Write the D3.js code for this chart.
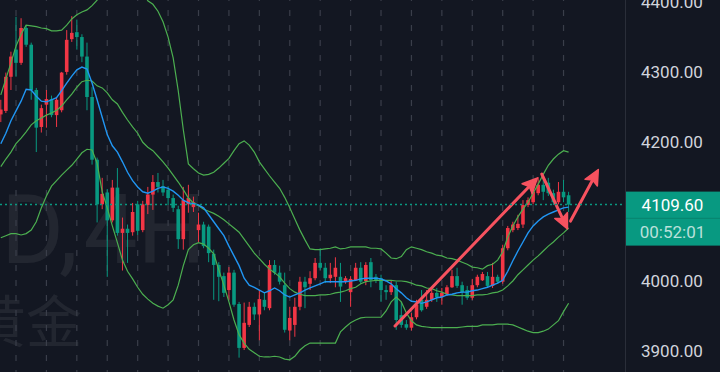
<!DOCTYPE html>
<html>
<head>
<meta charset="utf-8">
<script src="https://cdn.jsdelivr.net/npm/d3@7"></script>
<style>
  html, body { margin: 0; padding: 0; background: #131722; }
  svg { display: block; }
</style>
</head>
<body>
<div id="chart"></div>
<script>
// 4H candles, oldest first (first candle is partly cut at the left edge)
const openP = [
  4239, 4244, 4293, 4332, 4313, 4363, 4339, 4274, 4221, 4253,
  4261, 4238, 4245, 4300, 4347, 4357, 4350, 4322, 4264, 4174,
  4110, 4127, 4087, 4134, 4069, 4075, 4070, 4110, 4073, 4109,
  4124, 4142, 4136, 4131, 4119, 4103, 4060, 4110, 4106, 4073,
  4081, 4078, 4039, 4023, 4007, 3987, 4012, 3967, 3904, 3937,
  3963, 3952, 3973, 3961, 4023, 4012, 3994, 3929, 3937, 3963,
  3999, 3996, 4004, 4026, 4019, 4004, 4006, 4006, 4000, 3984,
  4001, 4019, 4000, 4027, 4006, 4004, 3987, 3984, 3994, 3951,
  3938, 3933, 3948, 3973, 3963, 3973, 3983, 3977, 3981, 3991,
  4007, 3994, 3987, 3976, 3994, 4001, 4007, 3993, 4006, 3999,
  4047, 4073, 4076, 4081, 4109, 4113, 4126, 4138, 4141, 4126,
  4113, 4128, 4123
];
const highP = [
  4260, 4299, 4329, 4379, 4377, 4367, 4342, 4277, 4253, 4274,
  4266, 4264, 4300, 4360, 4380, 4375, 4354, 4342, 4278, 4177,
  4148, 4132, 4145, 4162, 4091, 4081, 4112, 4115, 4115, 4135,
  4152, 4155, 4145, 4136, 4124, 4108, 4135, 4138, 4121, 4098,
  4085, 4081, 4045, 4027, 4012, 4020, 4016, 3970, 3969, 3970,
  3969, 3987, 3983, 4030, 4030, 4022, 4012, 3963, 3976, 4006,
  4006, 4014, 4033, 4047, 4026, 4026, 4034, 4026, 4007, 4007,
  4026, 4027, 4027, 4033, 4010, 4009, 3994, 4000, 3999, 3970,
  3944, 3954, 3973, 3987, 3987, 3990, 3990, 3990, 3994, 4016,
  4019, 3999, 3993, 4003, 4009, 4013, 4013, 4026, 4009, 4052,
  4079, 4085, 4095, 4116, 4120, 4133, 4149, 4148, 4148, 4131,
  4142, 4145, 4128
];
const lowP = [
  4228, 4241, 4274, 4293, 4310, 4336, 4260, 4185, 4213, 4220,
  4235, 4221, 4242, 4296, 4343, 4332, 4314, 4245, 4167, 4084,
  4103, 4006, 4084, 4065, 4015, 4026, 4065, 4066, 4070, 4096,
  4102, 4127, 4122, 4109, 4099, 4046, 4045, 4098, 4099, 4056,
  4047, 4027, 3973, 3971, 3977, 3973, 3963, 3890, 3901, 3934,
  3944, 3915, 3958, 3958, 4009, 3995, 3926, 3915, 3920, 3958,
  3961, 3987, 4001, 4016, 3997, 3997, 3991, 3970, 3996, 3963,
  4000, 3996, 3994, 3991, 3997, 3970, 3973, 3980, 3930, 3933,
  3930, 3929, 3945, 3956, 3960, 3970, 3970, 3966, 3979, 3990,
  3990, 3966, 3973, 3973, 3991, 4000, 3990, 3990, 3996, 3996,
  4044, 4070, 4073, 4076, 4106, 4110, 4123, 4116, 4122, 4109,
  4110, 4113, 4099
];
const closeP = [
  4246, 4293, 4322, 4313, 4363, 4339, 4274, 4220, 4248, 4261,
  4238, 4260, 4299, 4346, 4356, 4350, 4322, 4264, 4174, 4110,
  4125, 4087, 4134, 4069, 4075, 4069, 4099, 4072, 4110, 4124,
  4142, 4135, 4127, 4119, 4105, 4060, 4116, 4119, 4113, 4081,
  4050, 4040, 4023, 4006, 3983, 4012, 3966, 3904, 3940, 3963,
  3952, 3974, 3963, 4023, 4012, 3999, 3930, 3947, 3963, 3999,
  3991, 4004, 4026, 4019, 4004, 4009, 4019, 3992, 4004, 4003,
  4019, 3999, 4023, 4001, 4000, 3987, 3984, 3994, 3944, 3937,
  3933, 3948, 3966, 3958, 3973, 3983, 3977, 3983, 3991, 4007,
  3993, 3984, 3976, 3994, 4006, 4010, 3993, 4006, 3999, 4047,
  4076, 4081, 4082, 4109, 4116, 4128, 4138, 4128, 4126, 4113,
  4128, 4120, 4109.6
];

// Bollinger bands (upper / basis / lower) and the blue moving average
const bbUpper = [
  4267, 4290, 4313, 4337, 4354, 4367, 4366, 4365, 4363, 4362,
  4359, 4359, 4360, 4367, 4376, 4382, 4386, 4389, 4395, 4403,
  4418, 4432, 4442, 4449, 4453, 4452, 4443, 4432, 4416, 4402,
  4397, 4387, 4372, 4350, 4320, 4273, 4217, 4168, 4161, 4155,
  4152, 4153, 4156, 4162, 4169, 4176, 4187, 4197, 4201, 4195,
  4185, 4171, 4161, 4151, 4142, 4133, 4120, 4105, 4089, 4073,
  4059, 4046, 4045, 4045, 4046, 4047, 4049, 4046, 4047, 4049,
  4049, 4049, 4049, 4047, 4047, 4046, 4040, 4033, 4032, 4035,
  4045, 4049, 4047, 4045, 4042, 4040, 4037, 4036, 4033, 4032,
  4030, 4027, 4024, 4020, 4019, 4017, 4022, 4024, 4030, 4042,
  4063, 4079, 4092, 4103, 4113, 4126, 4139, 4153, 4166, 4175,
  4182, 4187, 4185
];
const bbBasis = [
  4164, 4175, 4185, 4197, 4205, 4214, 4224, 4230, 4234, 4238,
  4241, 4245, 4251, 4260, 4268, 4278, 4286, 4288, 4287, 4280,
  4277, 4270, 4260, 4254, 4242, 4231, 4221, 4212, 4199, 4192,
  4187, 4179, 4171, 4162, 4152, 4142, 4131, 4119, 4112, 4108,
  4103, 4100, 4097, 4093, 4088, 4082, 4076, 4070, 4060, 4050,
  4040, 4032, 4024, 4017, 4012, 4006, 3997, 3989, 3984, 3981,
  3979, 3979, 3979, 3980, 3980, 3981, 3983, 3984, 3986, 3989,
  3991, 3996, 3999, 4000, 4001, 4001, 4001, 4001, 4000, 4000,
  3999, 3997, 3994, 3993, 3990, 3989, 3986, 3984, 3981, 3980,
  3979, 3979, 3979, 3979, 3980, 3980, 3981, 3983, 3984, 3987,
  3993, 4000, 4009, 4016, 4023, 4030, 4036, 4043, 4050, 4056,
  4063, 4069, 4076
];
const bbLower = [
  4062, 4065, 4068, 4068, 4066, 4068, 4073, 4085, 4105, 4122,
  4136, 4144, 4152, 4159, 4166, 4175, 4184, 4189, 4188, 4169,
  4128, 4105, 4079, 4055, 4030, 4014, 4003, 3991, 3981, 3974,
  3968, 3964, 3961, 3966, 3973, 3994, 4022, 4045, 4052, 4055,
  4053, 4047, 4039, 4016, 3994, 3970, 3944, 3923, 3911, 3902,
  3897, 3892, 3891, 3891, 3892, 3891, 3888, 3887, 3892, 3901,
  3907, 3911, 3911, 3911, 3911, 3911, 3911, 3927, 3934, 3940,
  3944, 3947, 3948, 3948, 3948, 3948, 3957, 3970, 3977, 3970,
  3954, 3943, 3937, 3935, 3934, 3933, 3933, 3933, 3933, 3933,
  3933, 3934, 3935, 3935, 3935, 3937, 3937, 3937, 3938, 3938,
  3938, 3937, 3934, 3931, 3928, 3926, 3926, 3928, 3931, 3937,
  3943, 3956, 3968
];
const maLine = [
  4197, 4212, 4230, 4244, 4258, 4275, 4274, 4265, 4258, 4257,
  4260, 4263, 4273, 4284, 4294, 4303, 4307, 4304, 4284, 4260,
  4235, 4210, 4194, 4185, 4171, 4156, 4144, 4135, 4128, 4126,
  4129, 4133, 4135, 4133, 4129, 4123, 4116, 4112, 4111, 4109,
  4105, 4095, 4085, 4075, 4065, 4050, 4036, 4022, 4004, 3994,
  3991, 3987, 3983, 3986, 3990, 3986, 3980, 3977, 3980, 3983,
  3987, 3990, 3993, 3996, 3999, 3999, 3999, 3999, 3999, 4000,
  4001, 4003, 4004, 4004, 4004, 4003, 4000, 3996, 3989, 3983,
  3976, 3971, 3970, 3968, 3970, 3973, 3976, 3977, 3980, 3981,
  3983, 3984, 3984, 3986, 3987, 3989, 3991, 3994, 3997, 4001,
  4014, 4029, 4043, 4056, 4069, 4079, 4086, 4092, 4096, 4099,
  4102, 4105, 4106
];

// 4100.00 sits under the last-price label, so it is not listed
const priceTicks = [3900, 4000, 4200, 4300, 4400];
const lastPrice = 4109.6;
const countdown = "00:52:01";
const symbolParts = ["XAUUSD,", "4H"];
const symbolDesc = "黄金";

// hand-drawn arrows: [candle index, price]
const arrows = [
  { from: [77.76, 3935.5], to: [105.87, 4148] },
  { from: [106.7, 4153.5], to: [111.78, 4074.6] },
  { from: [112.38, 4086], to: [117.86, 4160] }
];

const width = 720, height = 372, paneW = 625;
const upCol = "#f23645", downCol = "#089981";

const svg = d3.select("#chart").append("svg")
  .attr("width", width)
  .attr("height", height);

svg.append("rect").attr("width", width).attr("height", height).attr("fill", "#131722");

svg.append("clipPath").attr("id", "pane")
  .append("rect").attr("width", paneW).attr("height", height);

const x = d3.scaleLinear().domain([0, 112]).range([0.8, 568.6]);
const y = d3.scaleLinear().domain([3900, 4400]).range([350.7, 2.2]);

const pane = svg.append("g").attr("clip-path", "url(#pane)");

// watermark (symbol + description), cut by the left edge
const wm = pane.append("g")
  .attr("fill", "rgba(255,255,255,0.065)")
  .attr("text-anchor", "end");
wm.selectAll("text.sym")
  .data(symbolParts)
  .enter()
  .append("text")
  .attr("class", "sym")
  .attr("x", (d, i) => (i === 0 ? 78 : 206))
  .attr("y", 263)
  .style("font", "96px Roboto, sans-serif")
  .text((d) => d);
wm.append("text")
  .attr("x", 82).attr("y", 342)
  .style("font", "56px 'Noto Sans CJK SC', sans-serif")
  .text(symbolDesc);

// day separators (every 6 bars)
const dayIdx = d3.range(3, openP.length, 6);
pane.append("g").selectAll("line")
  .data(dayIdx)
  .enter()
  .append("line")
  .attr("x1", (d) => x(d)).attr("x2", (d) => x(d))
  .attr("y1", -5).attr("y2", height)
  .attr("stroke", "#3a3e4a")
  .attr("stroke-width", 1.2)
  .attr("stroke-dasharray", "6,9");

// candles
const candles = openP.map((o, i) => ({ i, o, h: highP[i], l: lowP[i], c: closeP[i] }));
const cg = pane.append("g").selectAll("g")
  .data(candles)
  .enter()
  .append("g")
  .attr("fill", (d) => (d.c >= d.o ? upCol : downCol))
  .attr("stroke", (d) => (d.c >= d.o ? upCol : downCol));

cg.append("line")
  .attr("x1", (d) => x(d.i)).attr("x2", (d) => x(d.i))
  .attr("y1", (d) => y(d.h)).attr("y2", (d) => y(d.l))
  .attr("stroke-width", 1);

cg.append("rect")
  .attr("stroke", "none")
  .attr("x", (d) => x(d.i) - 1.8)
  .attr("width", 3.6)
  .attr("y", (d) => y(Math.max(d.o, d.c)))
  .attr("height", (d) => Math.max(1, Math.abs(y(d.o) - y(d.c))));

// indicator lines
const line = d3.line().x((d, i) => x(i)).y((d) => y(d));
[bbUpper, bbBasis, bbLower].forEach((s) => {
  pane.append("path")
    .datum(s)
    .attr("d", line)
    .attr("fill", "none")
    .attr("stroke", "#4caf50")
    .attr("stroke-width", 1.2);
});
pane.append("path")
  .datum(maLine)
  .attr("d", line)
  .attr("fill", "none")
  .attr("stroke", "#2196f3")
  .attr("stroke-width", 1.4);

// arrows
const arrowCol = "#f7525f";
arrows.forEach((a) => {
  const x0 = x(a.from[0]), y0 = y(a.from[1]);
  const x1 = x(a.to[0]), y1 = y(a.to[1]);
  const len = Math.hypot(x1 - x0, y1 - y0);
  const ux = (x1 - x0) / len, uy = (y1 - y0) / len;
  const hl = 15, hw = 7;
  const bx = x1 - ux * hl, by = y1 - uy * hl;
  pane.append("line")
    .attr("x1", x0).attr("y1", y0)
    .attr("x2", bx + ux * 3).attr("y2", by + uy * 3)
    .attr("stroke", arrowCol)
    .attr("stroke-width", 3)
    .attr("stroke-linecap", "round");
  pane.append("path")
    .attr("d", `M${x1},${y1}L${bx - uy * hw},${by + ux * hw}L${bx + ux * 3},${by + uy * 3}L${bx + uy * hw},${by - ux * hw}Z`)
    .attr("fill", arrowCol)
    .attr("stroke", arrowCol)
    .attr("stroke-width", 1.5)
    .attr("stroke-linejoin", "round");
});

// last price line
pane.append("line")
  .attr("x1", 0).attr("x2", paneW)
  .attr("y1", y(lastPrice)).attr("y2", y(lastPrice))
  .attr("stroke", "#089981")
  .attr("stroke-width", 1.5)
  .attr("stroke-dasharray", "2,3");

// price scale
svg.append("line")
  .attr("x1", paneW + 0.5).attr("x2", paneW + 0.5)
  .attr("y1", 0).attr("y2", height)
  .attr("stroke", "#2a2e39");

const yAxis = d3.axisRight(y)
  .tickValues(priceTicks)
  .tickFormat(d3.format(".2f"))
  .tickSize(0)
  .tickPadding(16);
const ag = svg.append("g")
  .attr("transform", `translate(${paneW},0)`)
  .call(yAxis);
ag.select(".domain").remove();
ag.selectAll("text")
  .attr("fill", "#d1d4dc")
  .style("font", "17px Roboto, sans-serif");

// last price label with countdown
const ly = y(lastPrice);
svg.append("rect")
  .attr("x", paneW + 1).attr("y", ly - 13)
  .attr("width", width - paneW - 1).attr("height", 54)
  .attr("fill", "#089981");
svg.append("line")
  .attr("x1", paneW + 1).attr("x2", width)
  .attr("y1", ly + 13.7).attr("y2", ly + 13.7)
  .attr("stroke", "rgba(0,0,0,0.15)");
svg.append("text")
  .attr("x", 672.5).attr("y", ly)
  .attr("dy", "0.35em")
  .attr("text-anchor", "middle")
  .attr("fill", "#ffffff")
  .style("font", "17px Roboto, sans-serif")
  .text(d3.format(".2f")(lastPrice));
svg.append("text")
  .attr("x", 672.5).attr("y", ly + 27)
  .attr("dy", "0.35em")
  .attr("text-anchor", "middle")
  .attr("fill", "rgba(255,255,255,0.72)")
  .style("font", "17px Roboto, sans-serif")
  .text(countdown);
</script>
</body>
</html>
